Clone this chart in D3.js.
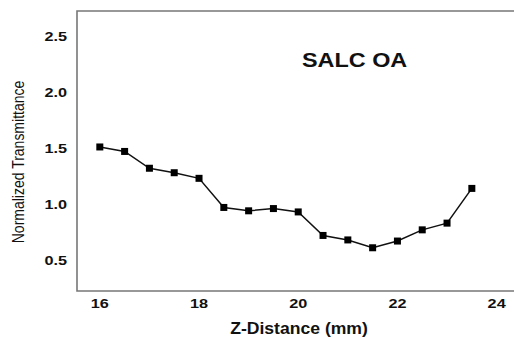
<!DOCTYPE html>
<html>
<head>
<meta charset="utf-8">
<script src="https://cdn.jsdelivr.net/npm/d3@7"></script>
<style>
  body { margin: 0; background: #fff; }
  text { font-family: "Liberation Sans", Arial, sans-serif; fill: #111; }
</style>
</head>
<body>
<div id="chart"></div>
<script>
// z-distance (mm) and normalized transmittance
const zDistance = [16, 16.5, 17, 17.5, 18, 18.5, 19, 19.5, 20, 20.5, 21, 21.5, 22, 22.5, 23, 23.5];
const transmittance = [1.50, 1.46, 1.31, 1.27, 1.22, 0.96, 0.93, 0.95, 0.92, 0.71, 0.67, 0.60, 0.66, 0.76, 0.82, 1.13];
const xTicks = [16, 18, 20, 22, 24];
const yTicks = [0.5, 1.0, 1.5, 2.0, 2.5];

const W = 514, H = 338;
const margin = { top: 11, right: 0, bottom: 47, left: 77 };

const svg = d3.select("#chart").append("svg")
    .attr("width", W)
    .attr("height", H);

// x: 16 -> 100px, 24 -> 497px
const x = d3.scaleLinear()
    .domain([15.54, 24.35])
    .range([margin.left, W - margin.right]);

const y = d3.scaleLinear()
    .domain([0.214, 2.714])
    .range([H - margin.bottom, margin.top]);

const data = zDistance.map((z, i) => ({ z: z, t: transmittance[i] }));

// the original text is a bit stretched sideways
const wide = (px, py, k) => `translate(${px},${py}) scale(${k},1)`;

// frame: top, left, bottom
svg.append("path")
    .attr("d", `M${W},${margin.top}H${margin.left}V${H - margin.bottom}H${W}`)
    .attr("fill", "none")
    .attr("stroke", "#777")
    .attr("stroke-width", 1.6);

// tick labels
svg.append("g")
    .selectAll("text")
    .data(xTicks)
    .join("text")
    .attr("transform", d => wide(x(d), H - margin.bottom + 17, 1.25))
    .attr("text-anchor", "middle")
    .attr("font-size", 13)
    .attr("font-weight", "bold")
    .text(d => d);

svg.append("g")
    .selectAll("text")
    .data(yTicks)
    .join("text")
    .attr("transform", d => wide(margin.left - 10, y(d) + 1, 1.25))
    .attr("dy", "0.35em")
    .attr("text-anchor", "end")
    .attr("font-size", 13)
    .attr("font-weight", "bold")
    .text(d => d.toFixed(1));

// axis titles
svg.append("text")
    .attr("transform", wide(299, 334, 1.1))
    .attr("text-anchor", "middle")
    .attr("font-size", 16)
    .attr("font-weight", "bold")
    .text("Z-Distance (mm)");

svg.append("text")
    .attr("transform", `translate(24,162) rotate(-90) scale(1,1.2)`)
    .attr("text-anchor", "middle")
    .attr("font-size", 14)
    .text("Normalized Transmittance");

// label inside the plot
svg.append("text")
    .attr("transform", wide(302, 67, 1.2))
    .attr("font-size", 19.5)
    .attr("font-weight", "bold")
    .text("SALC OA");

// line + square markers
const line = d3.line()
    .x(d => x(d.z))
    .y(d => y(d.t));

svg.append("path")
    .datum(data)
    .attr("fill", "none")
    .attr("stroke", "#111")
    .attr("stroke-width", 1.5)
    .attr("d", line);

const s = 7;
svg.append("g")
    .selectAll("rect")
    .data(data)
    .join("rect")
    .attr("x", d => x(d.z) - s / 2)
    .attr("y", d => y(d.t) - s / 2)
    .attr("width", s)
    .attr("height", s)
    .attr("fill", "#000");
</script>
</body>
</html>
